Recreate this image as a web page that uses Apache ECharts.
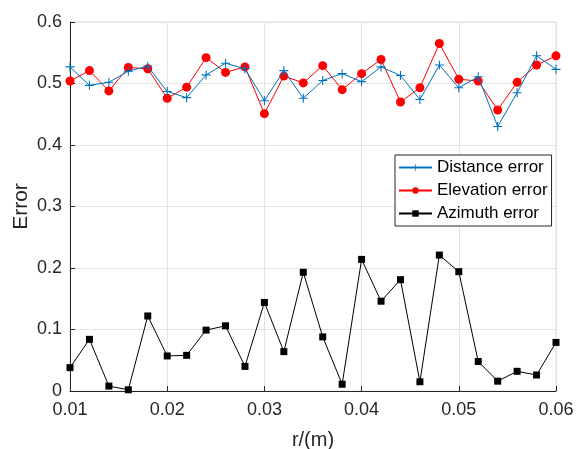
<!DOCTYPE html>
<html><head><meta charset="utf-8">
<script src="https://cdn.jsdelivr.net/npm/echarts@6/dist/echarts.min.js"></script>
<style>html,body{margin:0;padding:0;background:#fff}#c{width:576px;height:449px}</style>
</head><body><div id="c"></div>
<script>
var rValues = [0.010,0.012,0.014,0.016,0.018,0.020,0.022,0.024,0.026,0.028,0.030,0.032,0.034,0.036,0.038,0.040,0.042,0.044,0.046,0.048,0.050,0.052,0.054,0.056,0.058,0.060];
var distanceError = [0.527,0.497,0.502,0.520,0.528,0.487,0.477,0.514,0.533,0.524,0.472,0.521,0.476,0.505,0.516,0.503,0.527,0.513,0.474,0.530,0.493,0.511,0.430,0.485,0.545,0.523];
var elevationError = [0.504,0.521,0.488,0.526,0.524,0.476,0.494,0.542,0.518,0.527,0.451,0.512,0.501,0.529,0.490,0.516,0.539,0.470,0.493,0.565,0.507,0.504,0.457,0.502,0.530,0.545];
var azimuthError = [0.038,0.084,0.008,0.002,0.122,0.057,0.058,0.099,0.106,0.040,0.144,0.064,0.193,0.088,0.011,0.214,0.146,0.181,0.015,0.221,0.194,0.048,0.016,0.032,0.026,0.079];
var seriesNames = ['Distance error','Elevation error','Azimuth error'];

function pairs(ys){ return rValues.map(function(x,i){ return [x, ys[i]]; }); }
var plus = 'path://M4.4,0H5.6V4.4H10V5.6H5.6V10H4.4V5.6H0V4.4H4.4Z';
var font = 'Liberation Sans, Arial, sans-serif';
var chart = echarts.init(document.getElementById('c'), null, {renderer:'canvas'});
chart.setOption({
  animation:false,
  backgroundColor:'#fff',
  grid:{left:70,right:20,top:22,bottom:58,show:true,borderColor:'#e0e0e0',borderWidth:1,
    containLabel:false,outerBoundsMode:'none'},
  xAxis:{type:'value',min:0.01,max:0.06,interval:0.01,
    name:'r/(m)',nameLocation:'middle',nameGap:39,nameMoveOverlap:false,
    nameTextStyle:{fontFamily:font,fontSize:20,color:'#262626'},
    axisLine:{show:true,lineStyle:{color:'#262626',width:1}},
    axisTick:{show:true,inside:true,length:5,lineStyle:{color:'#262626'}},
    axisLabel:{fontFamily:font,fontSize:18,color:'#262626',margin:10,formatter:function(v){return v.toFixed(2);}},
    splitLine:{show:true,lineStyle:{color:'#e3e3e3',width:1}}},
  yAxis:{type:'value',min:0,max:0.6,interval:0.1,
    name:'Error',nameLocation:'middle',nameGap:38,nameMoveOverlap:false,
    nameTextStyle:{fontFamily:font,fontSize:21,color:'#262626'},
    axisLine:{show:true,lineStyle:{color:'#262626',width:1}},
    axisTick:{show:true,inside:true,length:5,lineStyle:{color:'#262626'}},
    axisLabel:{fontFamily:font,fontSize:18,color:'#262626',margin:8,formatter:function(v){return v===0?'0':v.toFixed(1);}},
    splitLine:{show:true,lineStyle:{color:'#e3e3e3',width:1}}},
  legend:{orient:'vertical',left:395,top:155,itemGap:6,padding:[4,4,4,3],
    backgroundColor:'#fff',borderColor:'#262626',borderWidth:1,
    itemWidth:33,itemHeight:8,
    textStyle:{fontFamily:font,fontSize:17,color:'#000'},
    data:seriesNames},
  series:[
    {name:seriesNames[0],type:'line',data:pairs(distanceError),symbol:plus,symbolSize:9,
     lineStyle:{color:'#0072bd',width:1},itemStyle:{color:'#0072bd'},z:3},
    {name:seriesNames[1],type:'line',data:pairs(elevationError),symbol:'circle',symbolSize:9,
     lineStyle:{color:'#ff0000',width:1},itemStyle:{color:'#ff0000'},z:2},
    {name:seriesNames[2],type:'line',data:pairs(azimuthError),symbol:'rect',symbolSize:7,
     lineStyle:{color:'#000',width:1},itemStyle:{color:'#000'},z:2}
  ]
});
</script></body></html>
